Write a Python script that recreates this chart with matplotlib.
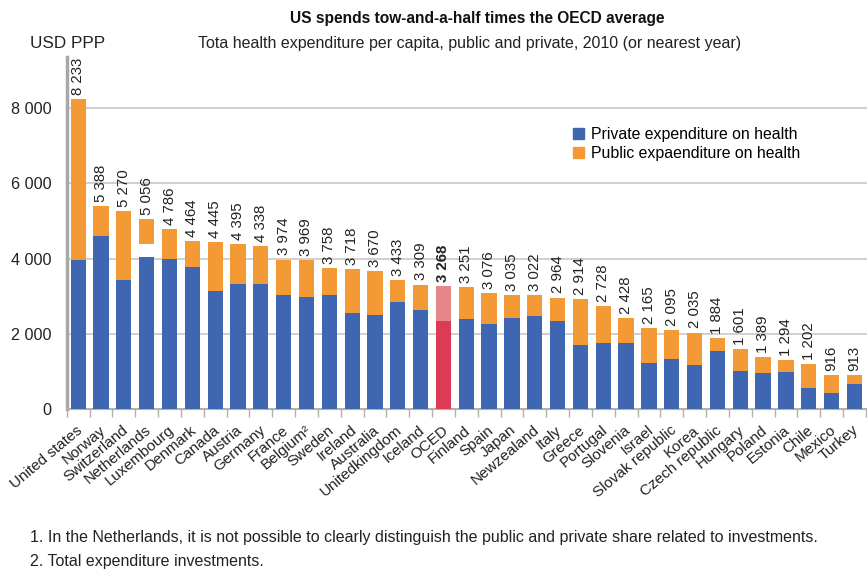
import numpy as np
import matplotlib
matplotlib.use("Agg")
import matplotlib.pyplot as plt
import matplotlib.transforms as mtransforms
from matplotlib.patches import Patch

plt.rcParams['font.family'] = ['Liberation Sans', 'DejaVu Sans']

countries = ["United states", "Norway", "Switzerland", "Netherlands", "Luxembourg",
             "Denmark", "Canada", "Austria", "Germany", "France", "Belgium\u00b2",
             "Sweden", "Ireland", "Australia", "Unitedkingdom", "Iceland", "OCED",
             "Finland", "Spain", "Japan", "Newzealand", "Italy", "Greece", "Portugal",
             "Slovenia", "Israel", "Slovak republic", "Korea", "Czech republic",
             "Hungary", "Poland", "Estonia", "Chile", "Mexico", "Turkey"]
total = [8233, 5388, 5270, 5056, 4786, 4464, 4445, 4395, 4338, 3974, 3969,
         3758, 3718, 3670, 3433, 3309, 3268, 3251, 3076, 3035, 3022, 2964,
         2914, 2728, 2428, 2165, 2095, 2035, 1884, 1601, 1389, 1294, 1202, 916, 913]
private = [3960, 4610, 3420, 4030, 4000, 3785, 3130, 3330, 3330, 3030, 2980,
           3030, 2550, 2490, 2840, 2630, 2340, 2390, 2250, 2410, 2470, 2330,
           1700, 1770, 1745, 1230, 1320, 1160, 1535, 1000, 965, 990, 550, 420, 655]
# Netherlands: public part starts above an unallocated (investment) gap
public_base_nl = 4380

blue = "#3F66B0"
orange = "#F39A37"
red_dark = "#DC3B55"
red_light = "#E6868A"

fig = plt.figure(figsize=(8.67, 5.69), dpi=100)
ax = fig.add_axes([0.077, 0.281, 0.923, 0.619])

x = np.arange(len(countries))
w = 0.67
oecd = countries.index("OCED")
nl = countries.index("Netherlands")

pub_bottom = list(private)
pub_bottom[nl] = public_base_nl
pub_height = [t - b for t, b in zip(total, pub_bottom)]

priv_col = [red_dark if i == oecd else blue for i in x]
pub_col = [red_light if i == oecd else orange for i in x]

ax.bar(x, private, w, color=priv_col, zorder=3)
ax.bar(x, pub_height, w, bottom=pub_bottom, color=pub_col, zorder=3)

for i, t in enumerate(total):
    s = f"{t:,}".replace(",", " ")
    ax.text(i, t + 110, s, rotation=90, ha='center', va='bottom', fontsize=10.8,
            color="#222222", fontweight='bold' if i == oecd else 'normal')

ax.set_xlim(-0.48, 34.55)
ax.set_ylim(0, 9360)
ax.set_yticks([0, 2000, 4000, 6000, 8000])
ax.set_yticklabels(["0", "2 000", "4 000", "6 000", "8 000"], fontsize=11.6, color="#222222")
ax.tick_params(axis='y', length=0, pad=11)
ax.grid(axis='y', color="#C8C8C8", linewidth=1.2, zorder=0)

ax.set_xticks(x)
ax.set_xticklabels(countries, rotation=40, ha='right', rotation_mode='anchor',
                   fontsize=11, color="#222222")
ax.tick_params(axis='x', length=0, pad=6)
offset = mtransforms.ScaledTranslation(-1.5 / 72, -4 / 72, fig.dpi_scale_trans)
for lab in ax.get_xticklabels():
    lab.set_transform(lab.get_transform() + offset)
ax.set_xticks(np.arange(-0.5, len(countries), 1), minor=True)
ax.tick_params(axis='x', which='minor', length=6, color="#B0B0B0", width=1)

for sp in ['top', 'right']:
    ax.spines[sp].set_visible(False)
ax.spines['left'].set_color("#A8A8A8")
ax.spines['left'].set_linewidth(2.5)
ax.spines['bottom'].set_color("#B0B0B0")
ax.spines['bottom'].set_linewidth(1.5)

fig.text(0.55, 0.968, "US spends tow-and-a-half times the OECD average",
         ha='center', va='center', fontsize=11.2, fontweight='bold', color="#111111")
fig.text(0.542, 0.924, "Tota health expenditure per capita, public and private, 2010 (or nearest year)",
         ha='center', va='center', fontsize=11.5, color="#222222")
fig.text(0.035, 0.924, "USD PPP", ha='left', va='center', fontsize=12.3, color="#222222")

handles = [Patch(color=blue, label="Private expenditure on health"),
           Patch(color=orange, label="Public expaenditure on health")]
fig.legend(handles=handles, loc='upper left', bbox_to_anchor=(0.661, 0.777),
           frameon=False, fontsize=11.4, handlelength=0.7, handleheight=0.7,
           handletextpad=0.45, labelspacing=0.28, borderaxespad=0, borderpad=0)

fig.text(0.035, 0.055, "1. In the Netherlands, it is not possible to clearly distinguish the public and private share related to investments.",
         ha='left', va='center', fontsize=11.5, color="#222222")
fig.text(0.035, 0.013, "2. Total expenditure investments.",
         ha='left', va='center', fontsize=11.5, color="#222222")

fig.savefig("out.png", dpi=100)
